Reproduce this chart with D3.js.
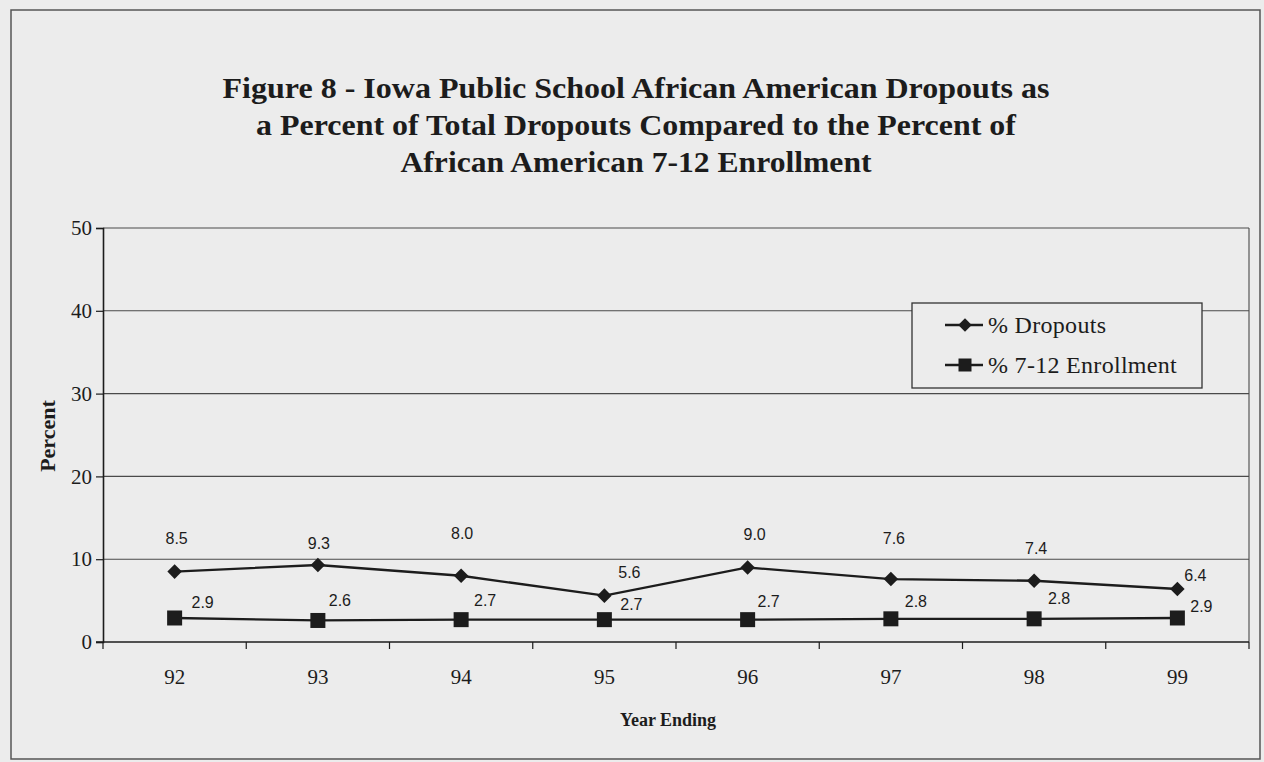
<!DOCTYPE html>
<html>
<head>
<meta charset="utf-8">
<script src="https://cdn.jsdelivr.net/npm/d3@7"></script>
<style>
  html, body { margin: 0; padding: 0; background: #ececec; }
  svg { display: block; }
</style>
</head>
<body>
<svg id="chart" width="1264" height="762"></svg>
<script>
// ---- data ----
const years = ["92", "93", "94", "95", "96", "97", "98", "99"];
const dropouts = [8.5, 9.3, 8.0, 5.6, 9.0, 7.6, 7.4, 6.4];
const enrollment = [2.9, 2.6, 2.7, 2.7, 2.7, 2.8, 2.8, 2.9];
const yTicks = [0, 10, 20, 30, 40, 50];
const titleLines = [
  "Figure 8 - Iowa Public School African American Dropouts as",
  "a Percent of Total Dropouts Compared to the Percent of",
  "African American 7-12 Enrollment"
];
const seriesNames = ["% Dropouts", "% 7-12 Enrollment"];

// ---- layout: title line widths, label offsets (px from marker) ----
const titleWidths = [827, 760, 471];
const dropLabelDx = [2, 1, 1, 25, 7, 3, 2, 18];
const dropLabelDy = [-33, -21, -42, -23, -33, -41, -32, -14];
const enrLabelDx = [28, 22, 24, 27, 21, 25, 25, 24];
const enrLabelDy = [-15, -20, -19, -15, -18, -17, -20, -11];

(function () {
const svg = d3.select("#chart");
const ink = "#1c1c1c";
const bg = "#ececec";
const serif = "Liberation Serif, Times New Roman, serif";

// outer frame
svg.append("rect")
  .attr("x", 11).attr("y", 10).attr("width", 1249).attr("height", 749)
  .attr("fill", bg).attr("stroke", "#555").attr("stroke-width", 1.5);

// title
const title = svg.append("g");
titleLines.forEach((t, i) => {
  title.append("text")
    .attr("x", 636).attr("y", 98 + i * 37)
    .attr("text-anchor", "middle")
    .attr("font-family", serif)
    .attr("font-weight", "bold")
    .attr("font-size", 29)
    .attr("textLength", titleWidths[i])
    .attr("lengthAdjust", "spacingAndGlyphs")
    .attr("fill", ink)
    .text(t);
});

// plot geometry
const pLeft = 103, pRight = 1249, pTop = 228, pBottom = 642;

const x = d3.scaleBand().domain(years).range([pLeft, pRight]).paddingInner(0).paddingOuter(0);
const y = d3.scaleLinear().domain([0, 50]).range([pBottom, pTop]);
const cx = d => x(d) + x.bandwidth() / 2;

// gridlines
svg.append("g").selectAll("line")
  .data(yTicks.filter(v => v > 0))
  .join("line")
  .attr("x1", pLeft).attr("x2", pRight)
  .attr("y1", d => y(d)).attr("y2", d => y(d))
  .attr("stroke", "#4a4a4a").attr("stroke-width", 1.1);

// right border of plot
svg.append("line")
  .attr("x1", pRight).attr("x2", pRight).attr("y1", pTop).attr("y2", pBottom)
  .attr("stroke", "#4a4a4a").attr("stroke-width", 1.1);

// y axis
const yAxis = svg.append("g")
  .attr("transform", `translate(${pLeft},0)`)
  .call(d3.axisLeft(y).tickValues(yTicks).tickSize(7).tickPadding(4).tickFormat(d3.format("d")));
yAxis.select(".domain").attr("stroke", ink).attr("stroke-width", 1.6);
yAxis.selectAll(".tick line").attr("stroke", ink).attr("stroke-width", 1.2);
yAxis.selectAll(".tick text")
  .attr("font-family", serif)
  .attr("font-size", 21).attr("fill", ink);

// x axis labels
const xAxis = svg.append("g")
  .attr("transform", `translate(0,${pBottom})`)
  .call(d3.axisBottom(x).tickSize(0).tickPadding(27));
xAxis.select(".domain").remove();
xAxis.selectAll(".tick text")
  .attr("font-family", serif)
  .attr("font-size", 21).attr("fill", ink);

// x axis line and boundary ticks
svg.append("line")
  .attr("x1", pLeft - 7).attr("x2", pRight).attr("y1", pBottom).attr("y2", pBottom)
  .attr("stroke", ink).attr("stroke-width", 1.6);
const boundaries = years.map(d => x(d)).concat([x(years[years.length - 1]) + x.bandwidth()]);
svg.append("g").selectAll("line")
  .data(boundaries)
  .join("line")
  .attr("x1", d => d).attr("x2", d => d)
  .attr("y1", pBottom).attr("y2", pBottom + 7)
  .attr("stroke", ink).attr("stroke-width", 1.2);

// axis titles
svg.append("text")
  .attr("transform", `translate(55,436) rotate(-90)`)
  .attr("text-anchor", "middle")
  .attr("font-family", serif)
  .attr("font-weight", "bold").attr("font-size", 22).attr("fill", ink)
  .text("Percent");
svg.append("text")
  .attr("x", 668).attr("y", 726)
  .attr("text-anchor", "middle")
  .attr("font-family", serif)
  .attr("font-weight", "bold").attr("font-size", 18).attr("fill", ink)
  .text("Year Ending");

// lines
const lineGen = vals => d3.line().x((v, i) => cx(years[i])).y(v => y(v))(vals);
svg.append("path").attr("d", lineGen(dropouts))
  .attr("fill", "none").attr("stroke", ink).attr("stroke-width", 2.3);
svg.append("path").attr("d", lineGen(enrollment))
  .attr("fill", "none").attr("stroke", ink).attr("stroke-width", 2.3);

// markers
const diamond = d3.symbol().type(d3.symbolDiamond2).size(135);
svg.append("g").selectAll("path")
  .data(dropouts)
  .join("path")
  .attr("d", diamond)
  .attr("transform", (v, i) => `translate(${cx(years[i])},${y(v)})`)
  .attr("fill", ink);
svg.append("g").selectAll("rect")
  .data(enrollment)
  .join("rect")
  .attr("x", (v, i) => cx(years[i]) - 7.5)
  .attr("y", v => y(v) - 7.5)
  .attr("width", 15).attr("height", 15)
  .attr("fill", ink);

// data labels
const labelFont = "Liberation Sans, Arial, sans-serif";
svg.append("g").selectAll("text")
  .data(dropouts)
  .join("text")
  .attr("x", (v, i) => cx(years[i]) + dropLabelDx[i])
  .attr("y", (v, i) => y(v) + dropLabelDy[i])
  .attr("text-anchor", "middle").attr("dominant-baseline", "central")
  .attr("font-family", labelFont).attr("font-size", 16).attr("fill", ink)
  .text(d => d3.format(".1f")(d));
svg.append("g").selectAll("text")
  .data(enrollment)
  .join("text")
  .attr("x", (v, i) => cx(years[i]) + enrLabelDx[i])
  .attr("y", (v, i) => y(v) + enrLabelDy[i])
  .attr("text-anchor", "middle").attr("dominant-baseline", "central")
  .attr("font-family", labelFont).attr("font-size", 16).attr("fill", ink)
  .text(d => d3.format(".1f")(d));

// legend
const lg = svg.append("g");
lg.append("rect")
  .attr("x", 912).attr("y", 303).attr("width", 290).attr("height", 85)
  .attr("fill", bg).attr("stroke", "#333").attr("stroke-width", 1.3);
const legendY = [325, 365];
seriesNames.forEach((name, i) => {
  lg.append("line")
    .attr("x1", 945).attr("x2", 983).attr("y1", legendY[i]).attr("y2", legendY[i])
    .attr("stroke", ink).attr("stroke-width", 2.3);
  if (i === 0) {
    lg.append("path").attr("d", d3.symbol().type(d3.symbolDiamond2).size(115)())
      .attr("transform", `translate(965,${legendY[i]})`).attr("fill", ink);
  } else {
    lg.append("rect").attr("x", 958.5).attr("y", legendY[i] - 6.5)
      .attr("width", 13).attr("height", 13).attr("fill", ink);
  }
  lg.append("text")
    .attr("x", 988).attr("y", legendY[i])
    .attr("dominant-baseline", "central")
    .attr("font-family", serif)
    .attr("font-size", 24).attr("letter-spacing", 0.3).attr("fill", ink)
    .text(name);
});
})();
</script>
</body>
</html>
